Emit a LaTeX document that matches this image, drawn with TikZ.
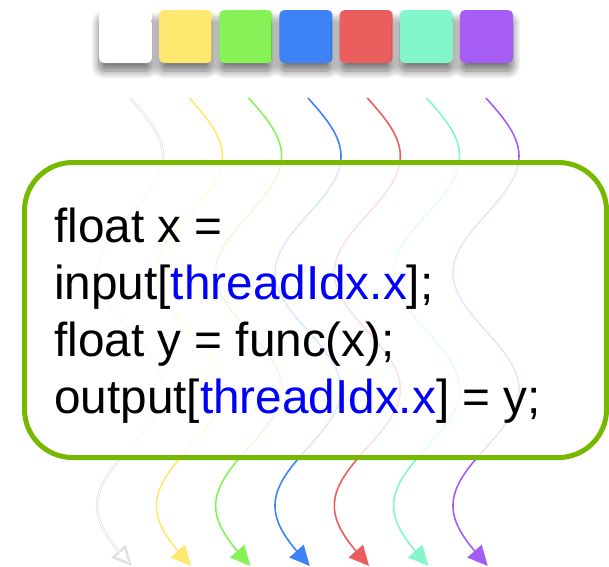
\documentclass[tikz,border=0pt]{standalone}
\usepackage{fontspec}
\setmainfont{Liberation Sans}
\usepackage{tikz}
\usetikzlibrary{arrows.meta,shadows.blur}

\definecolor{cwhite}{RGB}{255,255,255}
\definecolor{cyellow}{RGB}{255,232,112}
\definecolor{cgreen}{RGB}{135,242,88}
\definecolor{cblue}{RGB}{61,130,247}
\definecolor{cred}{RGB}{234,94,94}
\definecolor{cteal}{RGB}{131,247,201}
\definecolor{cpurple}{RGB}{165,93,244}
\definecolor{nvgreen}{RGB}{118,185,0}
\definecolor{idx}{RGB}{0,0,250}

\begin{document}
\begin{tikzpicture}
  [x=1pt, y=-1pt,
   square/.style={rounded corners=5pt, minimum size=53pt, inner sep=0pt,
     blur shadow={shadow xshift=0pt, shadow yshift=-8pt, shadow blur radius=8pt,
       shadow blur steps=14, shadow opacity=55}},
   thread/.style={line width=1.6pt, -{Triangle[length=20pt,width=19pt]}},
   code/.style={inner sep=0pt, anchor=base west, font=\fontsize{47.7}{57}\selectfont}]
  \useasboundingbox (0,0) rectangle (609,566);

  % thread blocks
  \foreach \i/\col in {1/cwhite,2/cyellow,3/cgreen,4/cblue,5/cred,6/cteal,7/cpurple}
    \node [square, fill=\col] (t\i) at ({65.3+60.17*\i},36.5) {};

  % white thread: grey rim, white core
  \coordinate (w1) at (130,98);
  \draw [line width=2.4pt, draw=black!12, shift={(w1)},
    -{Triangle[length=20pt,width=19pt,fill=white]}]
    plot[domain=0:468, samples=140] ({33*sin(1.54506*\x)}, \x);
  \draw [line width=1pt, draw=white, shift={(w1)}, shorten >=14pt]
    plot[domain=0:468, samples=140] ({33*sin(1.54506*\x)}, \x);

  % coloured threads
  \foreach \i/\col in {2/cyellow,3/cgreen,4/cblue,5/cred,6/cteal,7/cpurple} {
    \coordinate (w\i) at ({70.67+59.33*\i},98);
    \draw [thread, draw=\col, shift={(w\i)}]
      plot[domain=0:468, samples=140] ({33*sin(1.54506*\x)}, \x);
  }

  % kernel box
  \draw [line width=5pt, draw=nvgreen, fill=white, fill opacity=0.82,
    rounded corners=48pt] (24.5,162.5) rectangle (606.5,457.5);

  \node [code] (l1) at (54,242) {float x =};
  \node [code] (l2) at (54,299) {input[\textcolor{idx}{threadIdx.x}];};
  \node [code] (l3) at (54,356) {float y = func(x);};
  \node [code] (l4) at (54,413) {output[\textcolor{idx}{threadIdx.x}] = y;};
\end{tikzpicture}
\end{document}
